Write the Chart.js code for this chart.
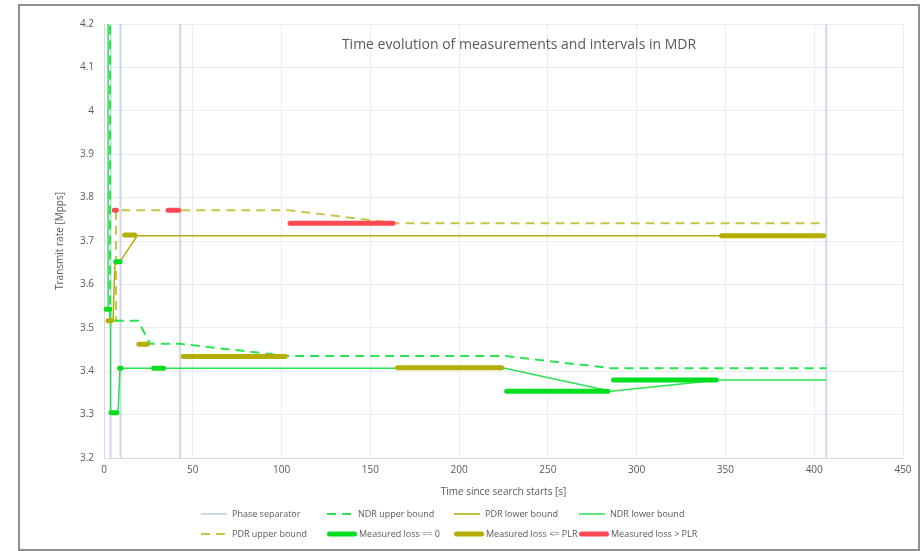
<!DOCTYPE html>
<html>
<head>
<meta charset="utf-8">
<script src="https://cdn.jsdelivr.net/npm/chart.js@4.4.1/dist/chart.umd.min.js"></script>
<style>
  html, body { margin: 0; padding: 0; background: #fff; }
  #wrap { position: relative; width: 924px; height: 551px; }
  #frame { position: absolute; left: 18px; top: 4px; width: 902px; height: 547px;
           box-sizing: border-box; border: 2px solid #8f8f8f; }
  #c { position: absolute; left: 0; top: 0; }
</style>
</head>
<body>
<div id="wrap">
  <div id="frame"></div>
  <canvas id="c" width="924" height="551"></canvas>
</div>
<script>
// phase separators (time, s)
const phaseTimes = [3.7, 9.3, 42.9, 406.8];

// bounds: time [s] and rate [Mpps]
const ndrUpperT = [3.4, 3.4, 19.2, 26.0, 42.9, 103.8, 225.7, 285.5, 406.8];
const ndrUpperR = [4.3, 3.516, 3.516, 3.463, 3.463, 3.435, 3.435, 3.407, 3.407];

const ndrLowerT = [2.3, 2.3, 3.7, 3.7, 7.9, 9.0, 225.7, 285.5, 346.6, 406.8];
const ndrLowerR = [4.3, 3.543, 3.543, 3.304, 3.304, 3.407, 3.407, 3.354, 3.380, 3.380];

const pdrLowerT = [2.8, 5.1, 6.2, 9.0, 18.6, 406.8];
const pdrLowerR = [3.516, 3.516, 3.652, 3.652, 3.712, 3.712];

const pdrUpperT = [4.5, 6.8, 6.8, 103.8, 164.6, 406.8];
const pdrUpperR = [3.516, 3.516, 3.771, 3.771, 3.741, 3.741];

// measurements: [start, end, rate]
const lossZero = [
  [1.2, 3.2, 3.543], [4.0, 7.3, 3.304], [6.6, 9.0, 3.652], [8.8, 9.6, 3.407],
  [28.0, 33.6, 3.407], [226.8, 283.8, 3.354], [287.0, 344.8, 3.380]
];
const lossBelow = [
  [2.3, 4.0, 3.516], [11.6, 17.3, 3.714], [19.6, 24.4, 3.462],
  [44.6, 102.1, 3.434], [165.3, 224.0, 3.408], [347.8, 405.4, 3.712]
];
const lossAbove = [
  [5.8, 7.0, 3.771], [36.1, 42.1, 3.771], [104.8, 162.9, 3.741]
];

const GREY = '#595959';
const FONT = "'Open Sans', sans-serif";

function line(ts, rs) {
  return ts.map((t, i) => ({ x: t, y: rs[i] }));
}
function segments(list) {
  const pts = [];
  list.forEach(([a, b, r]) => { pts.push({ x: a, y: r }, { x: b, y: r }, { x: b, y: null }); });
  return pts;
}
function separators(ts) {
  const pts = [];
  ts.forEach(t => { pts.push({ x: t, y: 3.2 }, { x: t, y: 4.2 }, { x: t, y: null }); });
  return pts;
}

const datasets = [
  { label: 'Phase separator', data: separators(phaseTimes), borderColor: 'rgb(203,216,240)', borderWidth: 2, order: 3 },
  { label: 'NDR upper bound', data: line(ndrUpperT, ndrUpperR), borderColor: 'rgb(40,228,80)', borderWidth: 2, borderDash: [9, 6], order: 2 },
  { label: 'PDR lower bound', data: line(pdrLowerT, pdrLowerR), borderColor: 'rgb(178,172,10)', borderWidth: 1.5, order: 2 },
  { label: 'NDR lower bound', data: line(ndrLowerT, ndrLowerR), borderColor: 'rgb(40,228,80)', borderWidth: 1.5, order: 2 },
  { label: 'PDR upper bound', data: line(pdrUpperT, pdrUpperR), borderColor: 'rgb(200,198,70)', borderWidth: 2, borderDash: [9, 6], order: 2 },
  { label: 'Measured loss == 0', data: segments(lossZero), borderColor: 'rgb(0,222,30)', borderWidth: 5, borderCapStyle: 'round', order: 0 },
  { label: 'Measured loss <= PLR', data: segments(lossBelow), borderColor: 'rgb(180,174,0)', borderWidth: 5, borderCapStyle: 'round', order: 0 },
  { label: 'Measured loss > PLR', data: segments(lossAbove), borderColor: 'rgb(255,72,82)', borderWidth: 5, borderCapStyle: 'round', order: 0 }
];
datasets.forEach(d => { d.pointRadius = 0; d.tension = 0; d.spanGaps = false; d.fill = false; });

// title drawn inside the plot area, like the original
const innerTitle = {
  id: 'innerTitle',
  afterDraw(chart) {
    const { ctx, chartArea } = chart;
    ctx.save();
    ctx.font = '14px ' + FONT;
    ctx.fillStyle = GREY;
    ctx.textAlign = 'center';
    ctx.textBaseline = 'middle';
    ctx.fillText('Time evolution of measurements and intervals in MDR', chartArea.left + 415, chartArea.top + 21);
    ctx.restore();
  }
};

// two row legend with fixed columns
const gridLegend = {
  id: 'gridLegend',
  afterDraw(chart) {
    const { ctx } = chart;
    const cols = [201, 327, 454, 579];
    const rows = [514, 534];
    ctx.save();
    ctx.font = '9px ' + FONT;
    ctx.textBaseline = 'middle';
    chart.data.datasets.forEach((d, i) => {
      const x = cols[i % 4], y = rows[Math.floor(i / 4)];
      const thick = d.borderWidth > 3;
      ctx.beginPath();
      ctx.strokeStyle = d.borderColor;
      ctx.lineWidth = d.borderWidth;
      ctx.setLineDash(d.borderDash || []);
      ctx.lineCap = thick ? 'round' : 'butt';
      if (thick) { ctx.moveTo(x + 2.5, y); ctx.lineTo(x + 27.5, y); }
      else { ctx.moveTo(x, y); ctx.lineTo(x + 26, y); }
      ctx.stroke();
      ctx.setLineDash([]);
      ctx.fillStyle = GREY;
      ctx.fillText(d.label, x + (thick ? 32 : 31), y);
    });
    ctx.restore();
  }
};

new Chart(document.getElementById('c'), {
  type: 'line',
  data: { datasets },
  plugins: [innerTitle, gridLegend],
  options: {
    responsive: false,
    animation: false,
    layout: { padding: { left: 50, right: 21, top: 24, bottom: 45 } },
    plugins: { legend: { display: false }, tooltip: { enabled: false } },
    scales: {
      x: {
        type: 'linear', min: 0, max: 450,
        ticks: { stepSize: 50, color: GREY, font: { family: FONT, size: 10 }, padding: 6, maxRotation: 0 },
        grid: { color: '#ececec', drawTicks: false },
        border: { color: '#d9d9d9' },
        title: { display: true, text: 'Time since search starts [s]', color: GREY,
                 font: { family: FONT, size: 10 }, padding: { top: 2, bottom: 8 } },
        afterFit: s => { s.height = 48; }
      },
      y: {
        type: 'linear', min: 3.2, max: 4.2,
        ticks: { stepSize: 0.1, color: GREY, font: { family: FONT, size: 10 }, padding: 10,
                 callback: v => String(+v.toFixed(2)) },
        grid: { color: '#ececec', drawTicks: false },
        border: { color: '#d9d9d9' },
        title: { display: true, text: 'Transmit rate [Mpps]', color: GREY,
                 font: { family: FONT, size: 10 }, padding: { top: 4, bottom: 2 } },
        afterFit: s => { s.width = 54; }
      }
    }
  }
});
</script>
</body>
</html>
